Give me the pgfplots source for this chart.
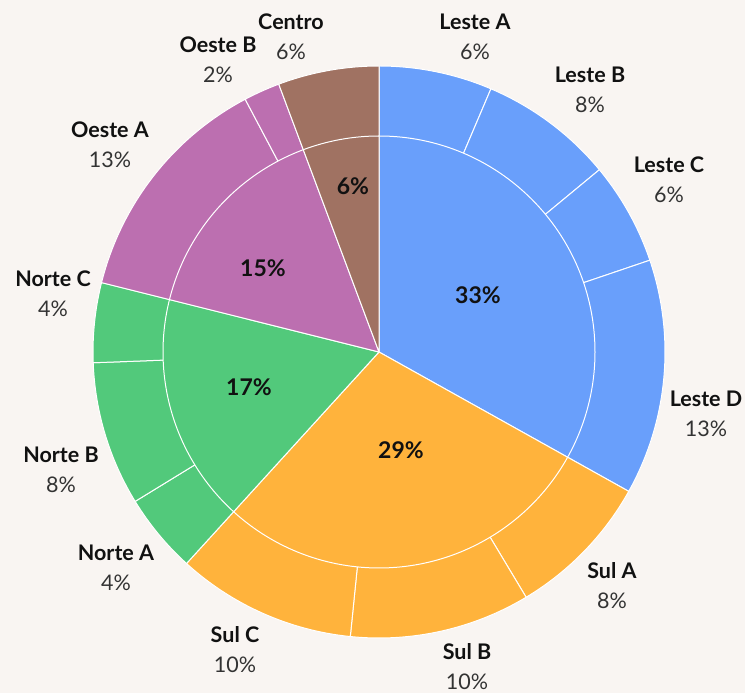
\documentclass[border=0pt]{standalone}
\usepackage{pgfplots}
\pgfplotsset{compat=1.18}
\usepackage{pgfplotstable}
\usepackage{fontspec}
\setmainfont{Lato}
\definecolor{bg}{HTML}{F9F5F2}
\definecolor{leste}{HTML}{699FFB}
\definecolor{sul}{HTML}{FFB33C}
\definecolor{norte}{HTML}{52C97B}
\definecolor{oeste}{HTML}{BC6FB0}
\definecolor{centro}{HTML}{A07262}
\definecolor{pctgray}{HTML}{333333}
\definecolor{txt}{HTML}{111111}

% inner ring: value (%), colour, label position (pixels), label
\pgfplotstableread[col sep=comma]{
name,value,col,lx,ly,pct
Leste,33.1,leste,478,295,33
Sul,28.65,sul,401,450,29
Norte,17.15,norte,249,387,17
Oeste,15.4,oeste,263,268,15
Centro,5.7,centro,353,186,6
}\innerdata

% outer ring
\pgfplotstableread[col sep=comma]{
name,value,col,lx,ly,pct
Leste A,6.4,leste,475,37,6
Leste B,7.6,leste,590,90,8
Leste C,5.8,leste,669,180,6
Leste D,13.3,leste,706,414,13
Sul A,8.3,sul,612,586,8
Sul B,10.2,sul,467,667,10
Sul C,10.15,sul,235,650,10
Norte A,4.5,norte,116,568,4
Norte B,8.15,norte,61,470,8
Norte C,4.5,norte,53,294,4
Oeste A,13.35,oeste,110,145,13
Oeste B,2.05,oeste,218,60,2
Centro,5.7,centro,291,37,6
}\outerdata

\begin{document}
\begin{tikzpicture}
\begin{axis}[hide axis, x=1pt, y=1pt, scale only axis,
  xmin=-379, xmax=366, ymin=-341, ymax=352, clip=false]
\fill[bg] (rel axis cs:0,0) rectangle (rel axis cs:1,1);
% ---------- outer ring ----------
\pgfplotstablegetrowsof{\outerdata}
\pgfmathtruncatemacro\N{\pgfplotsretval-1}
\def\cum{0}
\pgfplotsforeachungrouped \i in {0,...,\N}{%
  \pgfplotstablegetelem{\i}{value}\of\outerdata \let\v\pgfplotsretval
  \pgfplotstablegetelem{\i}{col}\of\outerdata \let\c\pgfplotsretval
  \pgfplotstablegetelem{\i}{name}\of\outerdata \let\nm\pgfplotsretval
  \pgfplotstablegetelem{\i}{pct}\of\outerdata \let\pc\pgfplotsretval
  \pgfplotstablegetelem{\i}{lx}\of\outerdata \pgfmathsetmacro\lx{\pgfplotsretval-379}
  \pgfplotstablegetelem{\i}{ly}\of\outerdata \pgfmathsetmacro\ly{352-\pgfplotsretval}
  \pgfmathsetmacro\a{90-3.6*\cum}
  \pgfmathsetmacro\b{90-3.6*(\cum+\v)}
  \pgfmathsetmacro\sx{286*cos(\a)}
  \pgfmathsetmacro\sy{286*sin(\a)}
  \edef\tmp{\noexpand\fill[\c, draw=white, line width=1pt, line join=round]
    (axis cs:0,0) -- (axis cs:\sx,\sy) arc[start angle=\a, end angle=\b, radius=286pt] -- cycle;
    \noexpand\node[align=center, text=txt, inner sep=0pt,
      font=\noexpand\fontsize{21.5}{30}\noexpand\selectfont]
      at (axis cs:\lx,\ly) {\noexpand\textbf{\nm}\noexpand\\{\noexpand\color{pctgray}\pc\noexpand\%}};}
  \tmp
  \pgfmathsetmacro\cum{\cum+\v}
}
% ---------- inner pie ----------
\pgfplotstablegetrowsof{\innerdata}
\pgfmathtruncatemacro\M{\pgfplotsretval-1}
\def\cum{0}
\pgfplotsforeachungrouped \i in {0,...,\M}{%
  \pgfplotstablegetelem{\i}{value}\of\innerdata \let\v\pgfplotsretval
  \pgfplotstablegetelem{\i}{col}\of\innerdata \let\c\pgfplotsretval
  \pgfmathsetmacro\a{90-3.6*\cum}
  \pgfmathsetmacro\b{90-3.6*(\cum+\v)}
  \pgfmathsetmacro\sx{216*cos(\a)}
  \pgfmathsetmacro\sy{216*sin(\a)}
  \edef\tmp{\noexpand\fill[\c, draw=white, line width=1pt, line join=round]
    (axis cs:0,0) -- (axis cs:\sx,\sy) arc[start angle=\a, end angle=\b, radius=216pt] -- cycle;}
  \tmp
  \pgfmathsetmacro\cum{\cum+\v}
}
\pgfplotsforeachungrouped \i in {0,...,\M}{%
  \pgfplotstablegetelem{\i}{pct}\of\innerdata \let\pc\pgfplotsretval
  \pgfplotstablegetelem{\i}{lx}\of\innerdata \pgfmathsetmacro\lx{\pgfplotsretval-379}
  \pgfplotstablegetelem{\i}{ly}\of\innerdata \pgfmathsetmacro\ly{352-\pgfplotsretval}
  \edef\tmp{\noexpand\node[text=txt, inner sep=0pt,
      font=\noexpand\fontsize{23}{26}\noexpand\selectfont\noexpand\bfseries]
      at (axis cs:\lx,\ly) {\pc\noexpand\%};}
  \tmp
}
\end{axis}
\end{tikzpicture}
\end{document}
